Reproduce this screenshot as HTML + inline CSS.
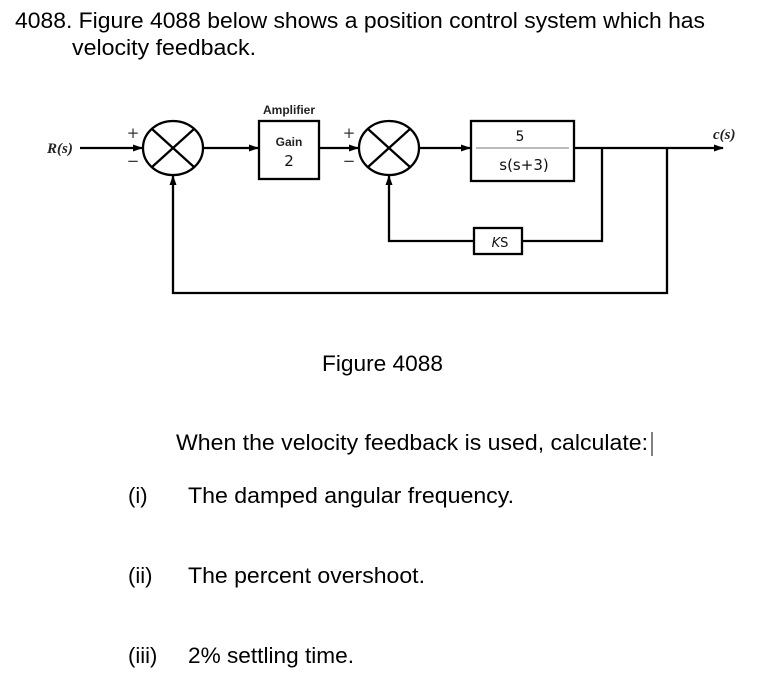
<!DOCTYPE html>
<html><head><meta charset="utf-8"><style>
html,body{margin:0;padding:0;background:#fff;}
svg{display:block;}
.t{font-family:"Liberation Sans",Arial,sans-serif;font-size:22px;fill:#000;}
.s{font-family:"Liberation Sans",Arial,sans-serif;font-size:12px;font-weight:bold;fill:#222;}
.m{font-family:"Liberation Serif",serif;font-style:italic;font-weight:bold;font-size:15px;fill:#222;}
.n{font-family:"DejaVu Sans",sans-serif;font-size:14px;fill:#111;}
.p{font-family:"DejaVu Sans",sans-serif;font-size:15px;fill:#333;}
</style></head><body>
<svg width="773" height="690" viewBox="0 0 773 690" xmlns="http://www.w3.org/2000/svg">
<defs><marker id="a" markerWidth="10" markerHeight="10" refX="9" refY="5" orient="auto" markerUnits="userSpaceOnUse"><path d="M0,1.5 L10,5 L0,8.5 Z" fill="#000"/></marker></defs>
<text class="t" x="15" y="28" textLength="690" lengthAdjust="spacingAndGlyphs">4088. Figure 4088 below shows a position control system which has</text>
<text class="t" x="72" y="55" textLength="184" lengthAdjust="spacingAndGlyphs">velocity feedback.</text>

<g stroke="#000" stroke-width="2.3" fill="none">
<ellipse cx="173" cy="148" rx="30" ry="27"/>
<line x1="152" y1="129" x2="194" y2="167"/><line x1="194" y1="129" x2="152" y2="167"/>
<ellipse cx="389" cy="148" rx="30" ry="27"/>
<line x1="368" y1="129" x2="410" y2="167"/><line x1="410" y1="129" x2="368" y2="167"/>
<rect x="259" y="121" width="60" height="58"/>
<rect x="471" y="121" width="103" height="60"/>
<rect x="474" y="228" width="48" height="26"/>
<line x1="80" y1="148" x2="142" y2="148" marker-end="url(#a)"/>
<line x1="203" y1="148" x2="258" y2="148" marker-end="url(#a)"/>
<line x1="319" y1="148" x2="358" y2="148" marker-end="url(#a)"/>
<line x1="419" y1="148" x2="470" y2="148" marker-end="url(#a)"/>
<line x1="574" y1="148" x2="723" y2="148" marker-end="url(#a)"/>
<polyline points="602,148 602,241 522,241"/>
<polyline points="474,241 389,241 389,176" marker-end="url(#a)"/>
<polyline points="667,148 667,293 173,293 173,176" marker-end="url(#a)"/>
</g>
<line x1="476" y1="148" x2="569" y2="148" stroke="#777" stroke-width="1"/>
<text class="s" x="289" y="114" text-anchor="middle">Amplifier</text>
<text class="s" x="289" y="146" text-anchor="middle">Gain</text>
<text class="n" x="289" y="166" text-anchor="middle" style="font-size:15px">2</text>
<text class="n" x="520" y="141" text-anchor="middle">5</text>
<text class="n" x="524" y="170" text-anchor="middle" style="font-size:15px">s(s+3)</text>
<text class="n" x="500" y="247" text-anchor="middle" style="font-size:13px"><tspan font-style="italic">K</tspan>S</text>
<text class="m" x="47" y="153">R(s)</text>
<text class="m" x="713" y="139">c(s)</text>
<text class="p" x="133" y="138" text-anchor="middle">+</text>
<text class="p" x="133" y="166" text-anchor="middle">−</text>
<text class="p" x="349" y="138" text-anchor="middle">+</text>
<text class="p" x="349" y="166" text-anchor="middle">−</text>

<text class="t" x="322" y="371" textLength="121" lengthAdjust="spacingAndGlyphs">Figure 4088</text>
<text class="t" x="176" y="450" textLength="472" lengthAdjust="spacingAndGlyphs">When the velocity feedback is used, calculate:</text>
<line x1="652" y1="432" x2="652" y2="456" stroke="#000" stroke-width="1"/>
<text class="t" x="128" y="503">(i)</text>
<text class="t" x="188" y="503" textLength="326" lengthAdjust="spacingAndGlyphs">The damped angular frequency.</text>
<text class="t" x="128" y="583">(ii)</text>
<text class="t" x="188" y="583" textLength="237" lengthAdjust="spacingAndGlyphs">The percent overshoot.</text>
<text class="t" x="128" y="663">(iii)</text>
<text class="t" x="188" y="663" textLength="166" lengthAdjust="spacingAndGlyphs">2% settling time.</text>
</svg>
</body></html>
